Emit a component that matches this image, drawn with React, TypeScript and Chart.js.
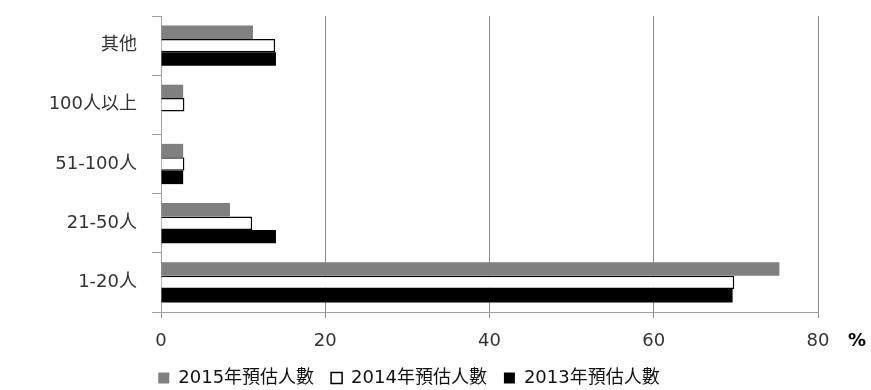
import React, { useEffect, useRef } from "react";
import { Chart, registerables } from "chart.js";

Chart.register(...registerables);

const categories = ["其他", "100人以上", "51-100人", "21-50人", "1-20人"];
const series2015 = [11.2, 2.7, 2.7, 8.4, 75.3];
const series2014 = [13.9, 2.85, 2.85, 11.1, 69.8];
const series2013 = [14.0, 0, 2.7, 14.0, 69.6];
const seriesNames = ["2015年預估人數", "2014年預估人數", "2013年預估人數"];
const xTicks = [0, 20, 40, 60, 80];

const FONT = "'DejaVu Sans', 'Noto Sans CJK TC', sans-serif";

const percentPlugin = {
  id: "percentLabel",
  afterDraw(chart: any) {
    const { ctx, chartArea } = chart;
    ctx.save();
    ctx.font = `bold 18px ${FONT}`;
    ctx.fillStyle = "#000";
    ctx.textAlign = "left";
    ctx.textBaseline = "middle";
    ctx.fillText("%", chartArea.right + 30, chartArea.bottom + 29);
    ctx.restore();
  },
};

export default function App() {
  const ref = useRef<HTMLCanvasElement | null>(null);
  useEffect(() => {
    document.body.style.margin = "0";
    const chart = new Chart(ref.current!, {
      type: "bar",
      data: {
        labels: categories,
        datasets: [
          {
            label: seriesNames[0],
            data: series2015,
            backgroundColor: "#808080",
            borderWidth: 0,
          },
          {
            label: seriesNames[1],
            data: series2014,
            backgroundColor: "#ffffff",
            borderColor: "#000000",
            borderWidth: 1.5,
          },
          {
            label: seriesNames[2],
            data: series2013,
            backgroundColor: "#000000",
            borderWidth: 0,
          },
        ],
      },
      options: {
        indexAxis: "y",
        animation: false,
        responsive: false,
        maintainAspectRatio: false,
        layout: { padding: { top: 16, right: 53, left: 0, bottom: -7 } },
        datasets: { bar: { categoryPercentage: 0.68, barPercentage: 1 } },
        scales: {
          x: {
            min: 0,
            max: 80,
            afterBuildTicks: (scale: any) => {
              scale.ticks = xTicks.map((v) => ({ value: v }));
            },
            afterFit: (scale: any) => {
              scale.height = 40;
            },
            grid: {
              color: "#8c8c8c",
              tickColor: "#8c8c8c",
              tickLength: 6,
              lineWidth: 1,
            },
            border: { color: "#a0a0a0" },
            ticks: {
              color: "#333",
              font: { family: FONT, size: 18 },
              padding: 13,
              maxRotation: 0,
            },
          },
          y: {
            afterFit: (scale: any) => {
              scale.width = 161;
              scale.paddingTop = 0;
              scale.paddingBottom = 0;
            },
            grid: {
              offset: true,
              drawOnChartArea: false,
              tickColor: "#a0a0a0",
              tickLength: 9,
            },
            border: { color: "#a0a0a0" },
            ticks: {
              color: "#333",
              font: { family: FONT, size: 18 },
              padding: 15,
            },
          },
        },
        plugins: {
          legend: {
            position: "bottom",
            labels: {
              color: "#111",
              font: { family: FONT, size: 18 },
              boxWidth: 11,
              boxHeight: 11,
              padding: 17,
              useBorderRadius: false,
            },
          },
          tooltip: { enabled: false },
        },
      },
      plugins: [percentPlugin],
    } as any);
    return () => chart.destroy();
  }, []);
  return <canvas ref={ref} width={871} height={390} style={{ display: "block" }} />;
}
